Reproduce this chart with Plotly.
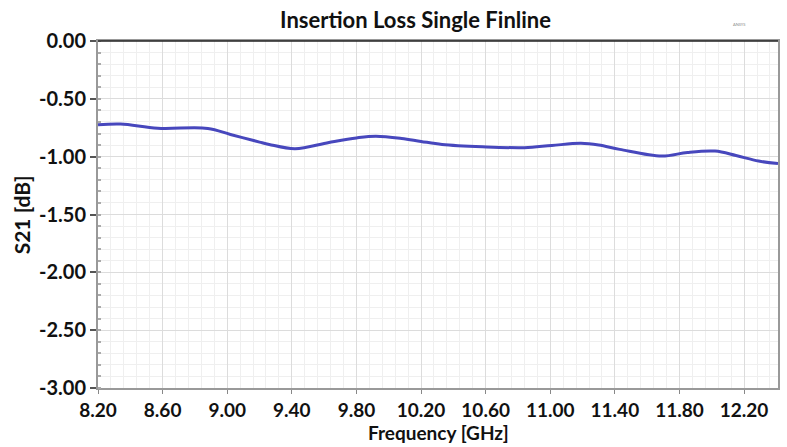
import plotly.graph_objects as go

freq_ghz = [8.20, 8.34, 8.57, 8.88, 9.02, 9.20, 9.26, 9.42, 9.63, 9.80, 9.92, 10.08, 10.20, 10.33,
            10.58, 10.84, 11.01, 11.19, 11.30, 11.43, 11.69, 11.85, 12.02, 12.15, 12.29, 12.41]
s21_db = [-0.725, -0.718, -0.754, -0.756, -0.808, -0.874, -0.894, -0.931, -0.877, -0.838, -0.823, -0.842,
          -0.868, -0.894, -0.914, -0.922, -0.903, -0.885, -0.900, -0.937, -0.995, -0.963, -0.952, -0.990,
          -1.038, -1.060]

x_tick_vals = [8.2, 8.6, 9.0, 9.4, 9.8, 10.2, 10.6, 11.0, 11.4, 11.8, 12.2]
y_tick_vals = [0.0, -0.5, -1.0, -1.5, -2.0, -2.5, -3.0]

font_family = "Lato, 'Open Sans', sans-serif"
tick_font = dict(family=font_family, size=20, color="#111", weight="bold")
x_tick_font = dict(family=font_family, size=19, color="#111", weight="bold")

TOP, BOTTOM = 41, 59
PLOT_H = 447 - TOP - BOTTOM

fig = go.Figure()
fig.add_trace(go.Scatter(
    x=freq_ghz, y=s21_db, mode="lines",
    line=dict(color="#4747bd", width=3, shape="spline", smoothing=1.0),
    hoverinfo="x+y", showlegend=False,
))

fig.update_layout(
    width=787, height=447,
    margin=dict(l=98, r=9, t=TOP, b=BOTTOM, autoexpand=False),
    paper_bgcolor="white", plot_bgcolor="white",
    title=dict(text="<b>Insertion Loss Single Finline</b>", x=0.528, xref="container", xanchor="center",
               y=0.955, yref="container", yanchor="middle",
               font=dict(family=font_family, size=22, color="#111")),
    font=dict(family=font_family, color="#111"),
)

fig.update_xaxes(
    range=[8.2, 12.41], tickvals=x_tick_vals, ticktext=[f"{v:.2f}" for v in x_tick_vals],
    tickfont=x_tick_font, automargin=False,
    showgrid=True, gridcolor="#dcdcdc", gridwidth=1,
    minor=dict(dtick=0.08, tick0=8.2, showgrid=True, gridcolor="#efefef", gridwidth=1),
    ticks="outside", ticklen=4, tickcolor="#888", tickwidth=1,
    showline=True, linecolor="#999", linewidth=2, mirror=True,
    zeroline=False,
)
fig.update_yaxes(
    range=[-3.0, 0.0], tickvals=y_tick_vals, ticktext=[f"{v:.2f}" for v in y_tick_vals],
    tickfont=tick_font, automargin=False,
    showgrid=True, gridcolor="#dcdcdc", gridwidth=1,
    minor=dict(dtick=0.1, showgrid=True, gridcolor="#efefef", gridwidth=1,
               ticks="inside", ticklen=3, tickcolor="#aaa"),
    ticks="outside", ticklen=6, tickcolor="#555", tickwidth=1.5,
    showline=True, linecolor="#999", linewidth=2, mirror=True,
    zeroline=False,
)

# top border drawn darker, as in the reference
fig.add_shape(type="line", xref="paper", yref="paper", x0=0, x1=1, y0=1, y1=1,
              line=dict(color="#222", width=1.5))

# axis titles
fig.add_annotation(text="<b>Frequency [GHz]</b>", xref="paper", yref="paper", x=0.5,
                   y=-(BOTTOM - 1) / PLOT_H,
                   xanchor="center", yanchor="bottom", showarrow=False,
                   font=dict(family=font_family, size=19, color="#111"))
fig.add_annotation(text="<b>S21 [dB]</b>", xref="paper", yref="paper", x=-0.112, y=0.5,
                   xanchor="center", yanchor="middle", textangle=-90, showarrow=False,
                   font=dict(family=font_family, size=21, color="#111"))

fig.add_annotation(text="ANSYS", xref="paper", yref="paper", x=0.955, y=1.06,
                   showarrow=False, font=dict(size=4, color="#888"))

fig.write_html("out.html", config={"displayModeBar": False},
               post_script="document.body.style.margin='0px';")
